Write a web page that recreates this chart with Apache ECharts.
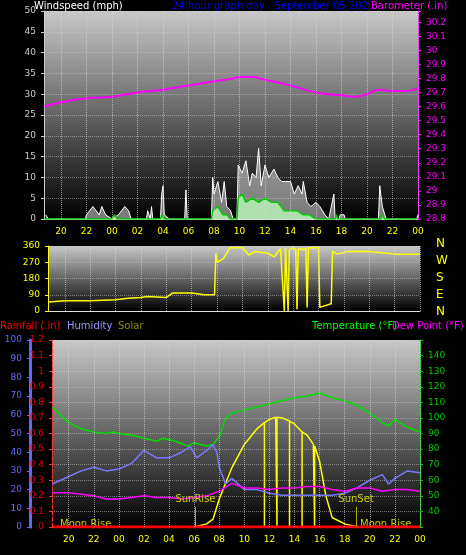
<!DOCTYPE html>
<html><head><meta charset="utf-8">
<script src="https://cdn.jsdelivr.net/npm/echarts@6/dist/echarts.min.js"></script>
<style>html,body{margin:0;background:#000}#c{width:466px;height:555px}</style>
</head><body><div id="c"></div>
<script>
// hours since midnight of previous day (24 = 00)
const barometer = [[18.7,29.6],[20,29.63],[22,29.66],[24,29.67],[26,29.7],[28,29.72],[30,29.75],[32,29.78],[33.5,29.8],[34,29.81],[35,29.81],[36,29.79],[38,29.75],[40,29.7],[42,29.68],[43,29.67],[44,29.69],[45,29.72],[46,29.71],[47,29.71],[48,29.73]];
const windGust = [[18.8,1],[19,0],[21.9,0],[22,1],[22.5,3],[23,1],[23.2,3],[23.5,1],[24,0],[24.5,1],[25,3],[25.3,2],[25.5,0],[26.7,0],[26.8,2],[27,0],[27.1,3],[27.2,0],[27.8,0],[27.9,6],[28,8],[28.1,1],[28.5,0],[29.7,0],[29.8,7],[29.9,0],[31.8,0],[31.9,10],[32,6],[32.3,9],[32.6,4],[32.8,9],[33,3],[33.3,2],[33.5,0],[33.8,0],[33.9,13],[34.2,11],[34.5,14],[34.8,8],[35,11],[35.3,10],[35.5,17],[35.7,8],[36,13],[36.3,10],[36.7,12],[37,10],[37.3,9],[37.6,9],[38,9],[38.3,6],[38.6,8],[38.9,6],[39,9],[39.3,4],[39.6,3],[40,4],[40.3,3],[40.7,1],[41,0],[41.2,3],[41.4,6],[41.5,0],[41.8,0],[41.9,1],[42.2,1],[42.3,0],[44.9,0],[45,8],[45.2,3],[45.4,1],[45.5,0],[47.9,0],[48,1]];
const windAvg = [[18.7,0],[24,0],[24.2,1],[24.4,0],[27.8,0],[27.9,1],[28.1,0],[31.8,0],[31.9,2],[32.3,3],[32.7,1],[33,1],[33.3,0],[33.8,0],[33.9,5],[34.2,6],[34.5,4],[35,5],[35.5,4],[36,5],[36.5,4],[37,4],[37.5,2],[38,2],[38.5,2],[39,1],[39.5,1],[40,0],[41.5,0],[41.6,1],[41.7,0],[45.1,0],[45.2,1],[45.4,0],[48,0]];
const windDir = [[18.7,50],[20,57],[22,57],[24,62],[25,70],[26,75],[26.5,80],[28,75],[28.5,100],[30,100],[31,90],[31.8,90],[31.9,320],[32,270],[32.5,290],[33,350],[34,350],[34.5,310],[35,330],[36,320],[36.5,300],[37,345],[37.3,0],[37.4,350],[37.6,0],[37.7,340],[38,350],[38.2,340],[38.3,10],[38.4,345],[38.8,340],[39,345],[39.1,20],[39.2,350],[40,350],[40.1,20],[41,40],[41.1,330],[41.5,315],[42.3,330],[44,330],[46,315],[48,315]];
const temperature = [[18.7,107],[20,97],[21,93],[22,91],[23,90],[23.5,91],[24,90],[25,89],[26,87],[27,85],[27.5,87],[28.5,85],[29.5,82],[30,84],[31,82],[31.5,83],[32,88],[32.5,100],[33,103],[34,105],[35,107],[36,109],[37,111],[38,113],[39,114],[40,116],[41,113],[42,111],[43,108],[44,103],[45,97],[45.5,95],[46,99],[47,94],[48,91]];
const dewPoint = [[18.7,52],[20,52],[22,50],[23,48],[24,48],[25,49],[26,50],[27,49],[28,49],[29,48],[30,49],[31,50],[32,53],[33,58],[34,55],[35,55],[36,54],[37,55],[38,55],[39,56],[40,56],[41,54],[42,53],[43,55],[44,55],[45,53],[46,54],[47,54],[48,53]];
const humidity = [[18.7,23],[20,27],[21,30],[22,32],[23,30],[24,31],[25,34],[26,41],[27,37],[28,37],[29,40],[29.7,43],[30.2,37],[31,41],[31.5,44],[31.8,40],[32,32],[32.5,23],[33,26],[34,20],[35,20],[36,18],[37,17],[38,17],[39,17],[40,17],[41,17],[42,18],[43,21],[44,25],[45,28],[45.5,23],[46,26],[47,30],[48,29]];
const solar = [[18.7,0],[30,0],[31,20],[31.5,50],[32,180],[33,380],[34,530],[35,630],[35.6,670],[35.6,0],[35.6,670],[36,690],[36.5,705],[36.6,705],[36.6,0],[36.6,705],[37,700],[37.6,680],[37.6,0],[37.6,680],[38,660],[38.6,610],[38.6,0],[38.6,610],[39,590],[39.5,530],[39.6,520],[39.6,0],[39.6,520],[40,420],[40.5,200],[41,60],[41.5,40],[42,20],[43,0],[48,0]];
const rainfall = [[18.7,0],[48,0]];
const hourTicks = [20,22,24,26,28,30,32,34,36,38,40,42,44,46,48];
const compass = ['N','W','S','E','N'];

const bg = new echarts.graphic.LinearGradient(0,0,0,1,[{offset:0,color:'#c8c8c8'},{offset:1,color:'#000'}]);
const grids = [
  {left:44,right:48,top:11,bottom:336,show:true,backgroundColor:bg,borderWidth:0},
  {left:48,right:46,top:246,bottom:244,show:true,backgroundColor:bg,borderWidth:0},
  {left:52,right:46,top:340,bottom:28,show:true,backgroundColor:bg,borderWidth:0}
];
const isEven = v => Math.abs(v - Math.round(v)) < 0.01 && Math.round(v) % 2 === 0;
const xa = (i, lbl) => ({type:'value',gridIndex:i,min:56/3,max:48,interval:1/3,
  axisLine:{lineStyle:{color:'#ddd'}},axisTick:{show:false},
  axisLabel:{show:lbl,color:'#ff0',fontSize:9,showMinLabel:true,showMaxLabel:true,
    formatter:v=>isEven(v)?String(Math.round(v)%24).padStart(2,'0'):''},
  splitLine:{show:false}});
const vGrid = {symbol:'none',silent:true,label:{show:false},
  lineStyle:{color:'#ddd',type:'dotted',width:1,opacity:0.6},
  data:hourTicks.map(h=>({xAxis:h}))};
const ya = (o) => Object.assign({type:'value',axisLine:{show:true},axisTick:{show:true,length:3},
  splitLine:{show:false},axisLabel:{fontSize:9}}, o);
const hSplit = {show:true,lineStyle:{color:'#ccc',type:'dotted',opacity:0.5}};

const chart = echarts.init(document.getElementById('c'));
chart.setOption({
  backgroundColor:'#000',
  animation:false,
  textStyle:{fontFamily:'DejaVu Sans'},
  grid:grids,
  xAxis:[xa(0,true),xa(1,false),xa(2,true)],
  yAxis:[
    ya({gridIndex:0,position:'left',min:0,max:50,interval:5,axisLine:{show:true,lineStyle:{color:'#ccc'}},axisLabel:{color:'#ccc',fontSize:9},splitLine:hSplit}),
    ya({gridIndex:0,position:'right',min:28.8,max:30.28,interval:0.1,axisLine:{show:true,lineStyle:{color:'#f0f'}},
      axisLabel:{color:'#f0f',fontSize:9,formatter:v=>v>30.21?'':(+v.toFixed(1)).toString()}}),
    ya({gridIndex:1,position:'left',min:0,max:360,interval:90,axisLine:{show:true,lineStyle:{color:'#ff0'}},axisLabel:{color:'#ff0',fontSize:9},splitLine:hSplit}),
    ya({gridIndex:2,position:'left',min:0,max:100,interval:10,offset:22,axisLine:{show:true,lineStyle:{color:'#66f',width:3}},axisLabel:{color:'#66f',fontSize:9}}),
    ya({gridIndex:2,position:'left',min:0,max:1.2,interval:0.1,axisLine:{show:true,lineStyle:{color:'#f33',type:'dashed'}},
      axisLabel:{color:'#e00',fontSize:9,formatter:v=>(+v.toFixed(1)).toString()},splitLine:hSplit}),
    ya({gridIndex:2,position:'right',min:30,max:150,interval:10,axisLine:{show:true,lineStyle:{color:'#0c0'}},
      axisLabel:{color:'#0c0',fontSize:9,formatter:v=>v<40||v>140?'':v}}),
    {type:'value',gridIndex:2,position:'right',min:0,max:1200,show:false}
  ],
  graphic:[
    {type:'text',left:34,top:1,style:{text:'Windspeed (mph)',fill:'#fff',font:'10px DejaVu Sans'}},
    {type:'text',left:172,top:1,style:{text:'24 hour graph day : September 05 2020',fill:'#00f',font:'10px DejaVu Sans'}},
    {type:'text',left:371,top:1,style:{text:'Barometer (.in)',fill:'#f0f',font:'10px DejaVu Sans'}},
    ...compass.map((t,i)=>({type:'text',left:436,top:238+i*17,style:{text:t,fill:'#ff0',font:'12px DejaVu Sans'}})),
    {type:'text',left:0,top:321,style:{text:'Rainfall (.in)',fill:'#f00',font:'10px DejaVu Sans'}},
    {type:'text',left:67,top:321,style:{text:'Humidity',fill:'#99f',font:'10px DejaVu Sans'}},
    {type:'text',left:118,top:321,style:{text:'Solar',fill:'#880',font:'10px DejaVu Sans'}},
    {type:'text',left:312,top:321,style:{text:'Temperature (°F)',fill:'#0f0',font:'10px DejaVu Sans'}},
    {type:'text',left:392,top:321,style:{text:'Dew Point (°F)',fill:'#f0f',font:'10px DejaVu Sans'}},
    {type:'text',left:60,top:519,style:{text:'Moon Rise',fill:'#cc0',font:'10px DejaVu Sans'}},
    {type:'text',left:360,top:519,style:{text:'Moon Rise',fill:'#cc0',font:'10px DejaVu Sans'}}
  ],
  series:[
    {type:'line',name:'Gust',xAxisIndex:0,yAxisIndex:0,data:windGust,symbol:'none',markLine:vGrid,
      lineStyle:{color:'#fff',width:1},areaStyle:{color:'rgba(230,230,230,0.75)'}},
    {type:'line',name:'Wind',xAxisIndex:0,yAxisIndex:0,data:windAvg,symbol:'none',
      lineStyle:{color:'#0c0',width:1.5},areaStyle:{color:'#b8f0b8',opacity:0.85}},
    {type:'line',name:'Barometer',xAxisIndex:0,yAxisIndex:1,data:barometer,symbol:'none',smooth:true,
      lineStyle:{color:'#f0f',width:2}},
    {type:'line',name:'Direction',xAxisIndex:1,yAxisIndex:2,data:windDir,symbol:'none',markLine:vGrid,
      lineStyle:{color:'#ff0',width:1.5}},
    {type:'line',name:'Temperature',xAxisIndex:2,yAxisIndex:5,data:temperature,symbol:'none',markLine:vGrid,
      lineStyle:{color:'#0d0',width:1.5}},
    {type:'line',name:'Solar',xAxisIndex:2,yAxisIndex:6,data:solar,symbol:'none',
      lineStyle:{color:'#ff0',width:1.5},
      markLine:{symbol:'none',silent:true,lineStyle:{color:'#aa0',type:'solid',width:1},
        label:{position:'end',color:'#cc0',fontSize:10,distance:2},
        data:[[{coord:[30.1,0],label:{formatter:'SunRise'}},{coord:[30.1,130]}],[{coord:[42.9,0],label:{formatter:'SunSet'}},{coord:[42.9,130]}]]}},
    {type:'line',name:'Humidity',xAxisIndex:2,yAxisIndex:3,data:humidity,symbol:'none',
      lineStyle:{color:'#77f',width:1.5}},
    {type:'line',name:'Dew Point',xAxisIndex:2,yAxisIndex:5,data:dewPoint,symbol:'none',
      lineStyle:{color:'#f0f',width:1.5}},
    {type:'line',name:'Rainfall',xAxisIndex:2,yAxisIndex:4,data:rainfall,symbol:'none',
      lineStyle:{color:'#f00',width:3}}
  ]
});
</script></body></html>
